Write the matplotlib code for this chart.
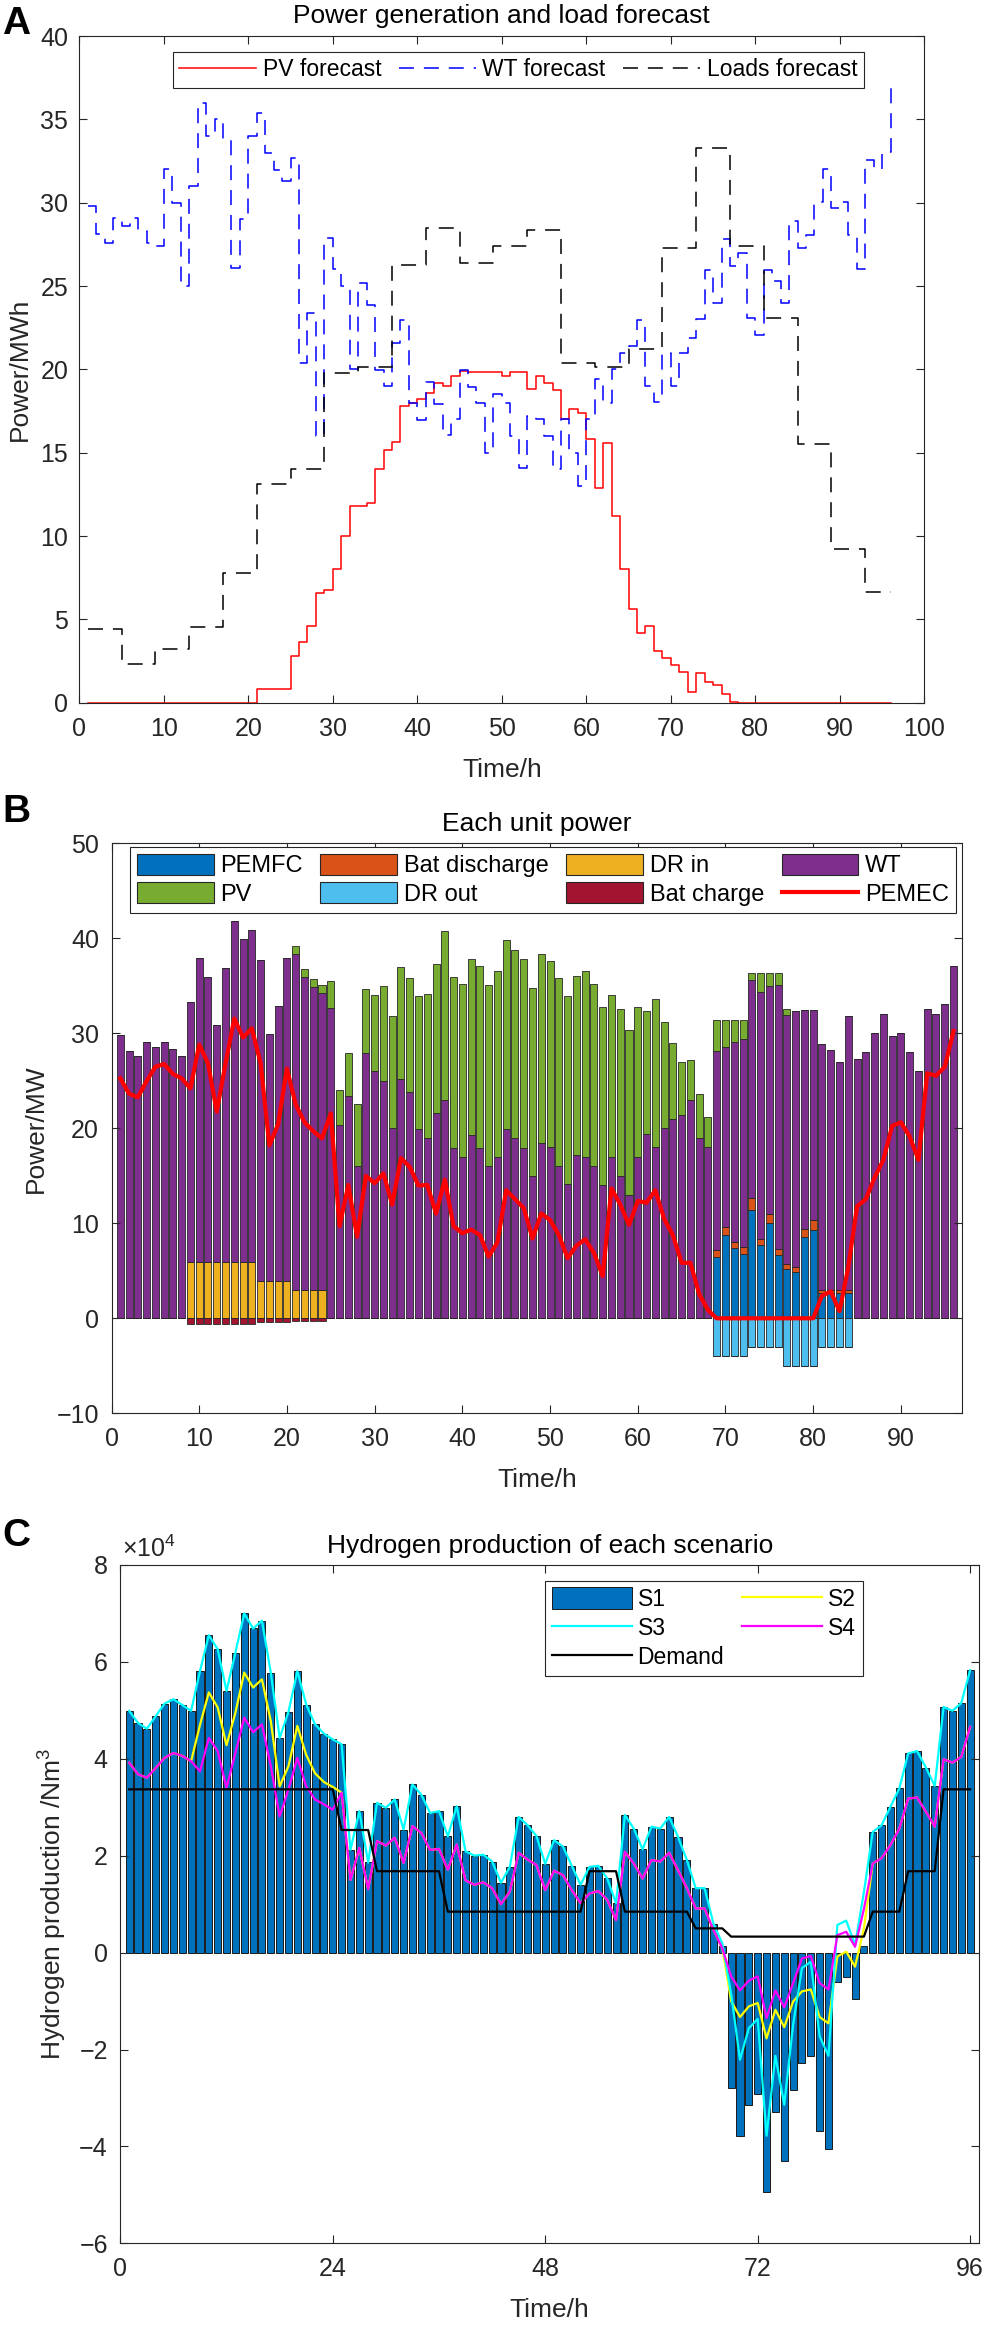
import numpy as np
import matplotlib
matplotlib.use('Agg')
import matplotlib.pyplot as plt
from matplotlib.patches import Patch
from matplotlib.lines import Line2D

plt.rcParams['font.family'] = ['Liberation Sans', 'DejaVu Sans']
plt.rcParams['mathtext.fontset'] = 'custom'
plt.rcParams['mathtext.rm'] = 'Liberation Sans'
plt.rcParams['mathtext.it'] = 'Liberation Sans:italic'

# ---------------- data ----------------
hours = list(range(1, 97))

# Panel A (MWh)
pv_forecast = [0] * 20 + [0.84] * 4 + [
    2.8, 3.62, 4.6, 6.6, 6.78, 8.0, 10.0, 11.8, 11.8, 12.0,
    14.0, 15.16, 15.66, 17.8, 17.98, 18.2, 18.6, 19.2, 19.0, 19.6,
    19.9, 19.82, 19.82, 19.82, 19.85, 19.6, 19.82, 19.82, 18.8, 19.6,
    19.2, 18.78, 17.0, 17.6, 17.4, 15.8, 12.9, 15.6, 11.2, 8.0,
    5.6, 4.2, 4.6, 3.1, 2.7, 2.25, 1.85, 0.64, 1.8, 1.26,
    1.04, 0.5, 0.05] + [0] * 19

wt_forecast = [
    29.8, 28.1, 27.6, 29.06, 28.6, 29.06, 28.3, 27.6, 27.4, 32.0,
    30.0, 25.0, 31.0, 35.96, 34.0, 35.0, 33.86, 26.06, 29.0, 34.0,
    35.4, 33.0, 31.96, 31.3, 32.66, 20.36, 23.36, 16.0, 27.9, 26.0,
    25.0, 20.0, 25.16, 23.86, 19.96, 19.02, 21.6, 22.96, 17.96, 16.96,
    19.26, 17.9, 16.06, 17.0, 19.96, 18.96, 17.96, 15.0, 18.5, 18.0,
    16.0, 14.1, 17.2, 17.0, 16.0, 14.0, 17.0, 15.0, 13.0, 17.0,
    19.4, 18.0, 20.0, 21.0, 21.4, 22.96, 19.0, 18.05, 21.0, 19.0,
    21.0, 21.9, 23.0, 25.96, 24.0, 27.83, 26.2, 26.97, 23.06, 22.07,
    25.96, 25.3, 24.0, 28.9, 27.3, 28.05, 30.04, 32.04, 29.67, 30.04,
    28.05, 26.02, 32.57, 32.04, 33.06, 37.08]

load_forecast_4h = [4.4, 2.32, 3.24, 4.56, 7.8, 13.14, 14.04, 19.8, 20.16, 26.26,
                    28.46, 26.4, 27.4, 28.36, 20.4, 20.16, 21.2, 27.3, 33.3, 27.4,
                    23.1, 15.5, 9.2, 6.67]

# Panel B (MW)
pemfc = [0] * 68 + [6.45, 8.77, 7.35, 6.73, 11.4, 7.68, 9.98, 6.63, 5.23, 4.86,
                    8.58, 9.34, 2.65, 2.65, 2.65, 2.65] + [0] * 12
bat_discharge = [0] * 68 + [0.7, 0.83, 0.7, 0.77, 1.25, 0.7, 1.05, 0.66, 0.52, 0.55,
                            0.83, 1.01, 0.28, 0.28, 0.28, 0.28] + [0] * 12
dr_in = [0] * 8 + [5.9] * 8 + [3.9] * 4 + [2.95] * 4 + [0] * 72
wt_used = wt_forecast
pv_used = pv_forecast[:68] + [3.2, 2.76, 2.31, 1.96, 0.68, 1.99, 1.3, 1.21, 0.62,
                              0, 0, 0] + [0] * 16
dr_out = [0] * 68 + [-4] * 4 + [-3] * 4 + [-5] * 4 + [-3] * 4 + [0] * 12
bat_charge = [0] * 8 + [-0.56] * 8 + [-0.38] * 4 + [-0.3] * 4 + [0] * 72
pemec = [
    25.26, 23.64, 23.27, 24.96, 26.47, 26.77, 25.72, 25.26, 24.2, 28.8,
    26.84, 21.76, 26.84, 31.55, 29.56, 30.53, 26.84, 18.19, 20.44, 26.28,
    22.5, 20.63, 19.7, 18.94, 21.57, 9.7, 14.04, 8.58, 14.98, 14.23,
    15.25, 11.97, 16.87, 15.93, 13.97, 14.04, 11.03, 14.6, 9.7, 8.96,
    9.34, 8.77, 6.5, 8.0, 13.48, 12.54, 11.6, 8.4, 11.03, 10.35,
    8.77, 6.33, 7.64, 8.32, 6.89, 4.44, 13.67, 11.97, 9.83, 12.35,
    12.16, 13.48, 10.47, 8.77, 5.84, 5.84, 2.56, 0.87, 0, 0,
    0, 0, 0, 0, 0, 0, 0, 0, 0, 0,
    2.37, 2.82, 0.75, 5.38, 11.78, 12.54, 14.8, 16.68, 20.26, 20.63,
    19.13, 16.68, 25.79, 25.53, 26.47, 30.23]

# Panel C (x10^4 Nm3)
s1 = [
    4.99, 4.74, 4.62, 4.88, 5.14, 5.23, 5.11, 4.99, 5.81, 6.55,
    6.26, 5.4, 6.19, 7.0, 6.69, 6.85, 5.78, 4.43, 4.97, 5.81,
    5.12, 4.71, 4.52, 4.4, 4.3, 2.12, 2.92, 1.86, 3.09, 2.99,
    3.16, 2.54, 3.47, 3.26, 2.88, 2.92, 2.4, 3.02, 2.09, 2.0,
    2.02, 1.88, 1.44, 1.77, 2.8, 2.63, 2.41, 1.83, 2.32, 2.19,
    1.79, 1.4, 1.77, 1.79, 1.53, 1.02, 2.84, 2.56, 2.13, 2.6,
    2.56, 2.8, 2.39, 1.91, 1.33, 1.33, 0.6, 0.14, -2.8, -3.78,
    -3.15, -2.92, -4.94, -3.3, -4.31, -2.84, -2.27, -2.13, -3.68, -4.05,
    -0.61, -0.51, -0.96, 0.14, 2.49, 2.63, 3.01, 3.39, 4.11, 4.16,
    3.82, 3.44, 5.07, 4.99, 5.15, 5.83]
s2 = [
    3.92, 3.68, 3.61, 3.81, 4.02, 4.12, 4.06, 3.95, 4.7, 5.37,
    5.06, 4.28, 4.95, 5.78, 5.47, 5.64, 4.78, 3.43, 3.85, 4.68,
    4.08, 3.7, 3.52, 3.42, 3.3, 1.5, 2.16, 1.31, 2.3, 2.21,
    2.37, 1.85, 2.61, 2.47, 2.12, 2.14, 1.71, 2.23, 1.49, 1.4,
    1.45, 1.33, 1.0, 1.26, 2.06, 1.92, 1.81, 1.29, 1.69, 1.6,
    1.29, 1.02, 1.22, 1.27, 1.09, 0.67, 2.08, 1.84, 1.53, 1.91,
    1.88, 2.06, 1.7, 1.33, 0.91, 0.91, 0.47, 0.1, -1.0, -1.33,
    -1.11, -1.04, -1.77, -1.18, -1.54, -1.01, -0.8, -0.76, -1.33, -1.46,
    -0.08, 0.02, -0.29, 0.5, 1.84, 1.95, 2.22, 2.56, 3.18, 3.2,
    2.91, 2.6, 3.99, 3.92, 4.04, 4.66]
s3 = [
    4.99, 4.74, 4.62, 4.88, 5.14, 5.23, 5.11, 4.99, 5.81, 6.55,
    6.26, 5.4, 6.19, 7.0, 6.69, 6.85, 5.78, 4.43, 4.97, 5.81,
    5.12, 4.71, 4.52, 4.4, 4.3, 2.12, 2.92, 1.86, 3.09, 2.99,
    3.16, 2.54, 3.47, 3.26, 2.88, 2.92, 2.4, 3.02, 2.09, 2.0,
    2.02, 1.88, 1.44, 1.77, 2.8, 2.63, 2.41, 1.83, 2.32, 2.19,
    1.79, 1.4, 1.77, 1.79, 1.53, 1.02, 2.84, 2.56, 2.13, 2.6,
    2.56, 2.8, 2.39, 1.91, 1.33, 1.33, 0.6, 0.19, -0.85, -2.21,
    -1.56, -1.37, -3.78, -2.13, -3.14, -1.49, -0.32, -0.19, -1.73, -2.13,
    0.57, 0.66, 0.16, 1.25, 2.49, 2.63, 3.01, 3.39, 4.11, 4.16,
    3.82, 3.44, 5.07, 4.99, 5.15, 5.83]
s4 = [
    3.92, 3.68, 3.61, 3.81, 4.02, 4.12, 4.06, 3.95, 3.74, 4.43,
    4.16, 3.4, 4.12, 4.85, 4.55, 4.71, 3.85, 2.81, 3.37, 4.02,
    3.43, 3.16, 3.06, 2.95, 3.3, 1.5, 2.16, 1.31, 2.3, 2.21,
    2.37, 1.85, 2.61, 2.47, 2.12, 2.14, 1.71, 2.23, 1.49, 1.4,
    1.45, 1.33, 1.0, 1.26, 2.06, 1.92, 1.81, 1.29, 1.69, 1.6,
    1.29, 1.02, 1.22, 1.27, 1.09, 0.67, 2.08, 1.84, 1.53, 1.91,
    1.88, 2.06, 1.7, 1.33, 0.91, 0.91, 0.47, 0.09, -0.49, -0.78,
    -0.58, -0.49, -1.35, -0.78, -1.13, -0.63, -0.12, -0.07, -0.63, -0.76,
    0.36, 0.43, 0.12, 0.9, 1.84, 1.95, 2.22, 2.56, 3.18, 3.2,
    2.91, 2.6, 3.99, 3.92, 4.04, 4.66]
demand_4h = [3.37, 3.37, 3.37, 3.37, 3.37, 3.37, 2.53, 1.68, 1.68, 0.845,
             0.845, 0.845, 0.845, 1.68, 0.845, 0.845, 0.5, 0.33, 0.33, 0.33,
             0.33, 0.845, 1.68, 3.37]

# ---------------- style ----------------
W, H = 985, 2326
TXT = '#262626'
C_PEMFC = '#0072BD'
C_BATDIS = '#D95319'
C_DRIN = '#EDB120'
C_WT = '#7E2F8E'
C_PV = '#77AC30'
C_DROUT = '#4DBEEE'
C_BATCH = '#A2142F'


def rect(l, r, t, b):
    return [l / W, 1 - b / H, (r - l) / W, (b - t) / H]


def style_axes(ax, xpad=10, ypad=8.5):
    ax.tick_params(direction='in', length=6, width=0.8, top=True, right=True,
                   labelsize=18, colors=TXT, labelcolor=TXT)
    ax.tick_params(axis='x', pad=xpad)
    ax.tick_params(axis='y', pad=ypad)
    for s in ax.spines.values():
        s.set_linewidth(0.8)
        s.set_color(TXT)


fig = plt.figure(figsize=(W / 100, H / 100), dpi=100)

x = np.array(hours)

# ================= Panel A =================
axA = fig.add_axes(rect(79.3, 924.3, 36, 702.7))
dash = (0, (9.8, 6.5))
axA.step(x, pv_forecast, where='post', color='#FF0000', lw=1.1, label='PV forecast')
axA.step(x, wt_forecast, where='post', color='#0000FF', lw=1.1, linestyle=dash,
         label='WT forecast')
axA.step(x, np.repeat(load_forecast_4h, 4), where='post', color='#000000', lw=1.1,
         linestyle=dash, label='Loads forecast')
axA.set_xlim(0, 100)
axA.set_ylim(0, 40)
axA.set_xticks(np.arange(0, 101, 10))
axA.set_yticks(np.arange(0, 41, 5))
style_axes(axA, ypad=8)
axA.set_title('Power generation and load forecast', fontsize=19, pad=9, color='black')
axA.set_xlabel('Time/h', fontsize=19, va='center', color=TXT)
axA.xaxis.set_label_coords(0.5, -0.101)
axA.set_ylabel('Power/MWh', fontsize=19, va='center', color=TXT)
axA.yaxis.set_label_coords(-0.070, 0.5)
legA = axA.legend(loc='upper center', bbox_to_anchor=(0.5193, 0.9765), ncol=3,
                  fontsize=16.5, handlelength=3.35, handletextpad=0.29,
                  columnspacing=0.77, borderpad=0.28, borderaxespad=0,
                  fancybox=False, framealpha=1, edgecolor=TXT)
legA.get_frame().set_linewidth(0.8)

# ================= Panel B =================
axB = fig.add_axes(rect(111.5, 962.3, 843.3, 1413.3))
bw = 0.8
ec = '#262626'
elw = 0.6
p_pemfc = np.array(pemfc)
p_bd = np.array(bat_discharge)
p_dri = np.array(dr_in)
p_wt = np.array(wt_used)
p_pv = np.array(pv_used)
b0 = np.zeros(96)
axB.bar(x, p_pemfc, bw, bottom=b0, color=C_PEMFC, edgecolor=ec, lw=elw)
b1 = b0 + p_pemfc
axB.bar(x, p_bd, bw, bottom=b1, color=C_BATDIS, edgecolor=ec, lw=elw)
b2 = b1 + p_bd
axB.bar(x, p_dri, bw, bottom=b2, color=C_DRIN, edgecolor=ec, lw=elw)
b3 = b2 + p_dri
axB.bar(x, p_wt, bw, bottom=b3, color=C_WT, edgecolor=ec, lw=elw)
b4 = b3 + p_wt
axB.bar(x, p_pv, bw, bottom=b4, color=C_PV, edgecolor=ec, lw=elw)
n_dro = np.array(dr_out)
axB.bar(x, n_dro, bw, bottom=0, color=C_DROUT, edgecolor=ec, lw=elw)
axB.bar(x, np.array(bat_charge), bw, bottom=n_dro, color=C_BATCH, edgecolor=ec, lw=elw)
axB.plot(x, pemec, color='#FF0000', lw=3.0, zorder=5, solid_joinstyle='round')
axB.set_xlim(0, 97)
axB.set_ylim(-10, 50)
axB.set_xticks(np.arange(0, 91, 10))
axB.set_yticks(np.arange(-10, 51, 10))
style_axes(axB, ypad=9)
axB.set_title('Each unit power', fontsize=19, pad=9, color='black')
axB.set_xlabel('Time/h', fontsize=19, va='center', color=TXT)
axB.xaxis.set_label_coords(0.5, -0.117)
axB.set_ylabel('Power/MW', fontsize=19, va='center', color=TXT)
axB.yaxis.set_label_coords(-0.0887, 0.5)

hB = [Patch(facecolor=C_PEMFC, edgecolor=ec, lw=0.8, label='PEMFC'),
      Patch(facecolor=C_PV, edgecolor=ec, lw=0.8, label='PV'),
      Patch(facecolor=C_BATDIS, edgecolor=ec, lw=0.8, label='Bat discharge'),
      Patch(facecolor=C_DROUT, edgecolor=ec, lw=0.8, label='DR out'),
      Patch(facecolor=C_DRIN, edgecolor=ec, lw=0.8, label='DR in'),
      Patch(facecolor=C_BATCH, edgecolor=ec, lw=0.8, label='Bat charge'),
      Patch(facecolor=C_WT, edgecolor=ec, lw=0.8, label='WT'),
      Line2D([], [], color='#FF0000', lw=3.0, label='PEMEC')]
legB = axB.legend(handles=hB, loc='upper center', bbox_to_anchor=(0.507, 0.994),
                  ncol=4, fontsize=17, handlelength=3.26, handleheight=1.0,
                  handletextpad=0.28, columnspacing=0.74, borderpad=0.3,
                  labelspacing=0.2, borderaxespad=0, fancybox=False,
                  framealpha=1, edgecolor=TXT)
legB.get_frame().set_linewidth(0.8)

# ================= Panel C =================
axC = fig.add_axes(rect(120.3, 979, 1565, 2243.3))
axC.bar(x, s1, 0.8, color=C_PEMFC, edgecolor='#1a1a1a', lw=0.7, label='S1')
axC.plot(x, s2, color='#FFFF00', lw=1.6, label='S2')
axC.plot(x, s3, color='#00FFFF', lw=1.6, label='S3')
axC.plot(x, s4, color='#FF00FF', lw=1.6, label='S4')
axC.plot(x, np.repeat(demand_4h, 4), color='black', lw=1.6, label='Demand')
axC.set_xlim(0, 97)
axC.set_ylim(-6, 8)
axC.set_xticks([0, 24, 48, 72, 96])
axC.set_yticks(np.arange(-6, 9, 2))
style_axes(axC, ypad=9)
axC.set_title('Hydrogen production of each scenario', fontsize=19, pad=9, color='black')
axC.set_xlabel('Time/h', fontsize=19, va='center', color=TXT)
axC.xaxis.set_label_coords(0.5, -0.0983)
axC.set_ylabel('Hydrogen production /Nm$^3$', fontsize=19, va='center', color=TXT)
axC.yaxis.set_label_coords(-0.078, 0.5)
hC, lC = axC.get_legend_handles_labels()
order = [lC.index(k) for k in ['S1', 'S3', 'Demand', 'S2', 'S4']]
legC = axC.legend([hC[i] for i in order], [lC[i] for i in order], loc='upper left',
                  bbox_to_anchor=(0.4946, 0.977), ncol=2, fontsize=16.5,
                  handlelength=3.48, handleheight=1.05, handletextpad=0.26,
                  columnspacing=0.78, borderpad=0.3, labelspacing=0.25,
                  borderaxespad=0, fancybox=False, framealpha=1, edgecolor=TXT)
legC.get_frame().set_linewidth(0.8)
fig.text(121.7 / W, 1 - 1557 / H, '\u00d710$^{4}$', fontsize=18, color=TXT,
         ha='left', va='baseline')

# panel letters
fig.text(2 / W, 1 - 34 / H, 'A', fontsize=28, fontweight='bold', va='baseline', ha='left')
fig.text(2 / W, 1 - 822 / H, 'B', fontsize=28, fontweight='bold', va='baseline', ha='left')
fig.text(2 / W, 1 - 1546 / H, 'C', fontsize=28, fontweight='bold', va='baseline', ha='left')

fig.savefig('out.png', dpi=100)
